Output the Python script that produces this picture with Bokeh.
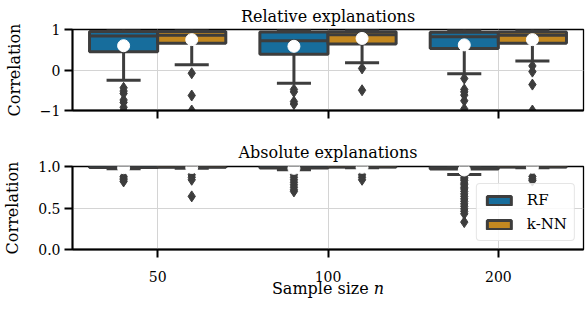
from bokeh.plotting import figure
from bokeh.layouts import column
from bokeh.models import FixedTicker, Range1d, Legend, LegendItem
from bokeh.embed import file_html
from bokeh.resources import INLINE

sizes = ["50", "100", "200"]
models = ["RF", "k-NN"]
box_colors = ["#176d9c", "#c38820"]
edge = "#3d3d3d"

# ---- Relative explanations (top panel) ----
rel_rf_q1 = [0.45, 0.39, 0.53]
rel_rf_med = [0.84, 0.72, 0.82]
rel_rf_q3 = [0.95, 0.94, 0.93]
rel_rf_lo = [-0.25, -0.33, -0.09]
rel_rf_hi = [1.0, 1.0, 1.0]
rel_rf_mean = [0.60, 0.585, 0.62]
rel_rf_fliers = [[-0.44, -0.52, -0.58, -0.74, -0.80, -0.92, -1.0],
                 [-0.48, -0.54, -0.78, -0.84],
                 [-0.21, -0.48, -0.54, -0.62, -0.76, -0.96]]

rel_knn_q1 = [0.66, 0.64, 0.66]
rel_knn_med = [0.86, 0.87, 0.86]
rel_knn_q3 = [0.95, 0.945, 0.94]
rel_knn_lo = [0.13, 0.18, 0.22]
rel_knn_hi = [1.0, 1.0, 1.0]
rel_knn_mean = [0.75, 0.78, 0.75]
rel_knn_fliers = [[-0.08, -0.63, -1.0],
                  [0.04, -0.50],
                  [0.10, -0.04, -0.36, -1.0]]

# ---- Absolute explanations (bottom panel) ----
abs_rf_q1 = [0.988, 0.982, 0.970]
abs_rf_med = [0.996, 0.994, 0.990]
abs_rf_q3 = [1.0, 1.0, 0.998]
abs_rf_lo = [0.972, 0.962, 0.905]
abs_rf_hi = [1.0, 1.0, 1.0]
abs_rf_mean = [0.985, 0.978, 0.958]
abs_rf_fliers = [[0.88, 0.86, 0.84, 0.82],
                 [0.90, 0.87, 0.84, 0.81, 0.78, 0.75, 0.72, 0.70],
                 [0.87, 0.85, 0.83, 0.80, 0.78, 0.75, 0.73, 0.70, 0.67, 0.64,
                  0.61, 0.58, 0.55, 0.52, 0.49, 0.46, 0.43, 0.33]]

abs_knn_q1 = [0.992, 0.994, 0.994]
abs_knn_med = [0.998, 0.998, 0.998]
abs_knn_q3 = [1.0, 1.0, 1.0]
abs_knn_lo = [0.978, 0.985, 0.985]
abs_knn_hi = [1.0, 1.0, 1.0]
abs_knn_mean = [0.988, 0.99, 0.99]
abs_knn_fliers = [[0.90, 0.87, 0.84, 0.64],
                  [0.90, 0.87, 0.84],
                  [0.88, 0.85, 0.83]]

FONT = "DejaVu Serif"
W = 586
LEFT, RIGHT = 70, 3


def make_fig(height, top_border, bottom_border, yr, title, standoff):
    p = figure(width=W, height=height, output_backend="svg", toolbar_location=None,
               x_range=Range1d(-0.5, 2.5), y_range=Range1d(*yr),
               min_border_left=LEFT, min_border_right=RIGHT,
               min_border_top=top_border, min_border_bottom=bottom_border)
    p.title.text = title
    p.title.align = "center"
    p.title.text_font = FONT
    p.title.text_font_style = "normal"
    p.title.text_font_size = "16px"
    p.title.text_color = "black"
    p.title.standoff = standoff
    p.outline_line_color = "black"
    p.outline_line_width = 1.3
    p.xaxis.ticker = FixedTicker(ticks=[0, 1, 2])
    p.xaxis.major_label_overrides = {i: s for i, s in enumerate(sizes)}
    p.xgrid.ticker = FixedTicker(ticks=[0, 1, 2])
    for ax in (p.xaxis[0], p.yaxis[0]):
        ax.axis_line_color = "black"
        ax.axis_line_width = 2
        ax.major_tick_line_color = "black"
        ax.major_tick_line_width = 2
        ax.major_tick_out = 8
        ax.major_tick_in = 0
        ax.minor_tick_line_color = None
        ax.major_label_text_font = FONT
        ax.major_label_text_font_size = "14px"
        ax.major_label_text_color = "black"
        ax.axis_label_text_font = FONT
        ax.axis_label_text_font_size = "16px"
        ax.axis_label_text_font_style = "normal"
        ax.axis_label_text_color = "black"
    p.yaxis.axis_label = "Correlation"
    p.yaxis.major_label_standoff = 4
    p.yaxis.axis_label_standoff = 13
    p.xaxis.major_label_standoff = 13
    p.xaxis.axis_label_standoff = -6
    for g in (p.xgrid[0], p.ygrid[0]):
        g.grid_line_color = "#d4d4d4"
        g.grid_line_width = 1
    return p


def draw_group(p, offset, color, q1, med, q3, lo, hi, mean, fliers):
    xs = [i + offset for i in range(len(sizes))]
    hw = 0.2
    box = p.quad(left=[x - hw for x in xs], right=[x + hw for x in xs], bottom=q1, top=q3,
                 fill_color=color, line_color=edge, line_width=3)
    p.segment(x0=xs, y0=q1, x1=xs, y1=lo, line_color=edge, line_width=3)
    p.segment(x0=xs, y0=q3, x1=xs, y1=hi, line_color=edge, line_width=3)
    p.segment(x0=[x - hw / 2 for x in xs], y0=lo, x1=[x + hw / 2 for x in xs], y1=lo,
              line_color=edge, line_width=3)
    p.segment(x0=[x - hw / 2 for x in xs], y0=hi, x1=[x + hw / 2 for x in xs], y1=hi,
              line_color=edge, line_width=3)
    p.segment(x0=[x - hw for x in xs], y0=med, x1=[x + hw for x in xs], y1=med,
              line_color=edge, line_width=3)
    fx = [x for x, fl in zip(xs, fliers) for _ in fl]
    fy = [v for fl in fliers for v in fl]
    p.scatter(x=fx, y=fy, marker="diamond", size=11, fill_color=edge, line_color=edge)
    p.scatter(x=xs, y=mean, marker="circle", size=12, fill_color="white", line_color="white")
    return box


p1 = make_fig(132, 0, 22, (-1, 1), "Relative explanations", 8)
p1.yaxis.ticker = FixedTicker(ticks=[-1, 0, 1])
p1.yaxis.major_label_overrides = {-1: "\u22121", 0: "0", 1: "1"}
p1.xaxis.major_label_overrides = {0: "", 1: "", 2: ""}
draw_group(p1, -0.2, box_colors[0], rel_rf_q1, rel_rf_med, rel_rf_q3, rel_rf_lo,
           rel_rf_hi, rel_rf_mean, rel_rf_fliers)
draw_group(p1, 0.2, box_colors[1], rel_knn_q1, rel_knn_med, rel_knn_q3, rel_knn_lo,
           rel_knn_hi, rel_knn_mean, rel_knn_fliers)

p2 = make_fig(174, 34, 57, (0, 1), "Absolute explanations", 10)
p2.yaxis.ticker = FixedTicker(ticks=[0, 0.5, 1])
p2.yaxis.major_label_overrides = {0: "0.0", 0.5: "0.5", 1: "1.0"}
p2.xaxis.axis_label = "Sample size \U0001D45B"
b_rf = draw_group(p2, -0.2, box_colors[0], abs_rf_q1, abs_rf_med, abs_rf_q3, abs_rf_lo,
                  abs_rf_hi, abs_rf_mean, abs_rf_fliers)
b_knn = draw_group(p2, 0.2, box_colors[1], abs_knn_q1, abs_knn_med, abs_knn_q3, abs_knn_lo,
                   abs_knn_hi, abs_knn_mean, abs_knn_fliers)

legend = Legend(items=[LegendItem(label=m, renderers=[r]) for m, r in zip(models, [b_rf, b_knn])],
                location="bottom_right")
legend.label_text_font = FONT
legend.label_text_font_size = "15px"
legend.label_text_color = "black"
legend.glyph_width = 30
legend.glyph_height = 11
legend.label_height = 18
legend.label_standoff = 13
legend.padding = 7
legend.spacing = 6
legend.margin = 8
legend.border_line_color = "#cccccc"
legend.border_line_width = 1
legend.background_fill_alpha = 0.85
try:
    legend.border_radius = 4
except Exception:
    pass
p2.add_layout(legend)

layout = column(p1, p2)
open("out.html", "w").write(file_html(layout, INLINE))
